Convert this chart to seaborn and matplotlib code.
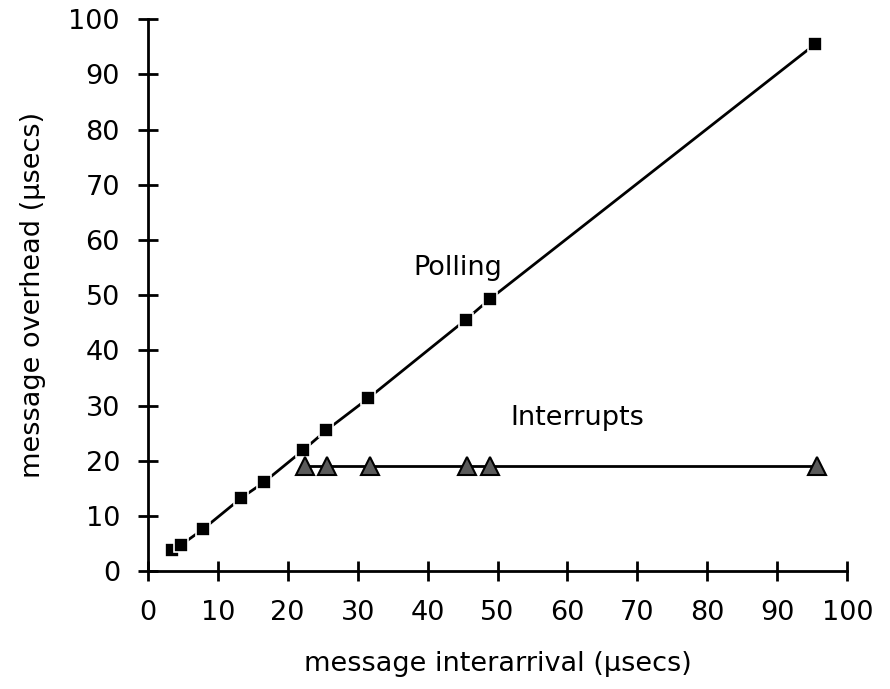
import matplotlib
matplotlib.use("Agg")
import matplotlib.pyplot as plt
import seaborn as sns
import pandas as pd

polling_x = [3.4, 4.7, 7.9, 13.4, 16.6, 22.2, 25.5, 31.5, 45.5, 48.9, 95.4]
polling_y = [3.8, 4.7, 7.6, 13.3, 16.1, 21.9, 25.5, 31.3, 45.6, 49.3, 95.5]
interrupt_x = [22.5, 25.6, 31.8, 45.6, 48.9, 95.7]
interrupt_y = [19, 19, 19, 19, 19, 19]
x_ticks = [0, 10, 20, 30, 40, 50, 60, 70, 80, 90, 100]
y_ticks = [0, 10, 20, 30, 40, 50, 60, 70, 80, 90, 100]

sns.set_style("white")
plt.rcParams['font.family'] = ['DejaVu Sans']
plt.rcParams['text.color'] = 'black'
plt.rcParams['axes.labelcolor'] = 'black'

FS = 19.5

fig = plt.figure(figsize=(8.9, 6.89), dpi=100)
ax = fig.add_axes([0.166, 0.171, 0.786, 0.801])

dp = pd.DataFrame({"x": polling_x, "y": polling_y})
di = pd.DataFrame({"x": interrupt_x, "y": interrupt_y})

sns.lineplot(data=dp, x="x", y="y", ax=ax, color="black", linewidth=2,
             marker="s", markersize=9.5, markerfacecolor="black",
             markeredgecolor="white", markeredgewidth=1.2, zorder=3)
sns.lineplot(data=di, x="x", y="y", ax=ax, color="black", linewidth=2,
             marker="^", markersize=13, markerfacecolor="#5a5a5a",
             markeredgecolor="black", markeredgewidth=1.5, zorder=3)

ax.set_xlim(0, 100)
ax.set_ylim(0, 100)
ax.set_xticks(x_ticks)
ax.set_yticks(y_ticks)
ax.set_xticklabels([str(t) for t in x_ticks])
ax.set_yticklabels([str(t) for t in y_ticks])
ax.tick_params(axis='both', direction='inout', length=14, width=2,
               labelsize=FS, colors='black', bottom=True, left=True)
ax.tick_params(axis='x', pad=14)
ax.tick_params(axis='y', pad=13)
for s in ['top', 'right']:
    ax.spines[s].set_visible(False)
for s in ['left', 'bottom']:
    ax.spines[s].set_linewidth(2)
    ax.spines[s].set_color('black')

ax.set_xlabel("message interarrival (μsecs)", fontsize=FS, labelpad=18)
ax.set_ylabel("message overhead (μsecs)", fontsize=FS, labelpad=16)

ax.text(38, 55, "Polling", fontsize=FS, va='center', ha='left')
ax.text(51.8, 27.7, "Interrupts", fontsize=FS, va='center', ha='left')

fig.savefig("out.png", dpi=100)
